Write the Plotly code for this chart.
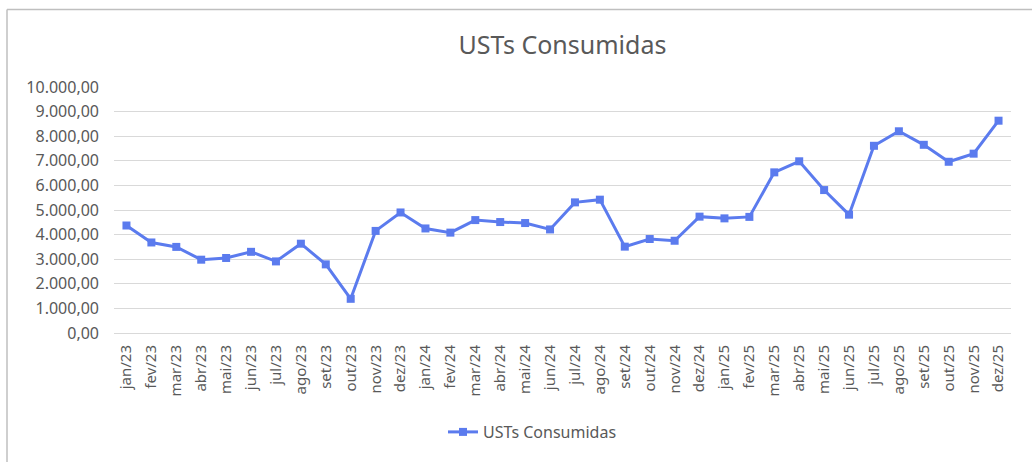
import plotly.graph_objects as go

months = ["jan/23","fev/23","mar/23","abr/23","mai/23","jun/23","jul/23","ago/23","set/23","out/23","nov/23","dez/23",
          "jan/24","fev/24","mar/24","abr/24","mai/24","jun/24","jul/24","ago/24","set/24","out/24","nov/24","dez/24",
          "jan/25","fev/25","mar/25","abr/25","mai/25","jun/25","jul/25","ago/25","set/25","out/25","nov/25","dez/25"]
usts = [4370, 3680, 3500, 2980, 3050, 3300, 2910, 3630, 2790, 1390, 4150, 4900,
        4250, 4080, 4590, 4510, 4470, 4210, 5310, 5420, 3510, 3820, 3750, 4730,
        4660, 4720, 6530, 6980, 5810, 4810, 7610, 8200, 7650, 6960, 7290, 8630]
series_name = "USTs Consumidas"
y_ticks = [0, 1000, 2000, 3000, 4000, 5000, 6000, 7000, 8000, 9000, 10000]

color = "#5B7BEE"
font = "Noto Sans, Segoe UI, sans-serif"
txt = "#595959"

fig = go.Figure()
fig.add_trace(go.Scatter(
    x=months, y=usts, name=series_name, mode="lines+markers",
    line=dict(color=color, width=3),
    marker=dict(symbol="square", size=8, color=color),
))

W, H = 1032, 462
L, R, T, B = 114, 21, 87, 129
pw, ph = W - L - R, H - T - B

def px_x(p):
    return (p - L) / pw

def px_y(p):
    return (H - B - p) / ph

fig.update_layout(
    width=W, height=H,
    margin=dict(l=L, r=R, t=T, b=B),
    paper_bgcolor="white", plot_bgcolor="white",
    separators=",.",
    font=dict(family=font, color=txt, size=15),
    title=dict(text=series_name, x=0.5, xref="paper", xanchor="center",
               y=1 - 45 / H, yanchor="middle",
               font=dict(size=25, color=txt, family=font)),
    showlegend=True,
    legend=dict(orientation="h", x=px_x(443), xanchor="left", xref="paper",
                y=px_y(432), yanchor="middle", font=dict(size=16, color=txt)),
    xaxis=dict(type="category", tickangle=-90, showgrid=False, showline=True,
               linecolor="#d9d9d9", linewidth=1, ticks="", tickfont=dict(size=15, color=txt),
               ticklabelstandoff=5,
               range=[-0.5, len(months) - 0.5], fixedrange=True),
    yaxis=dict(range=[0, 10000], tickvals=y_ticks, tickformat=",.2f", showgrid=True,
               gridcolor="#d9d9d9", gridwidth=1, zeroline=False, showline=False,
               ticks="", tickfont=dict(size=16, color=txt), ticklabelstandoff=14, fixedrange=True),
    shapes=[
        dict(type="line", xref="paper", yref="paper", x0=px_x(7), x1=px_x(1040),
             y0=px_y(9.5), y1=px_y(9.5), line=dict(color="#bfbfbf", width=1.5)),
        dict(type="line", xref="paper", yref="paper", x0=px_x(7), x1=px_x(7),
             y0=px_y(9.5), y1=px_y(470), line=dict(color="#bfbfbf", width=1.5)),
    ],
)

fig.write_html("out.html", config={"displayModeBar": False},
               post_script="document.body.style.margin='0';")
